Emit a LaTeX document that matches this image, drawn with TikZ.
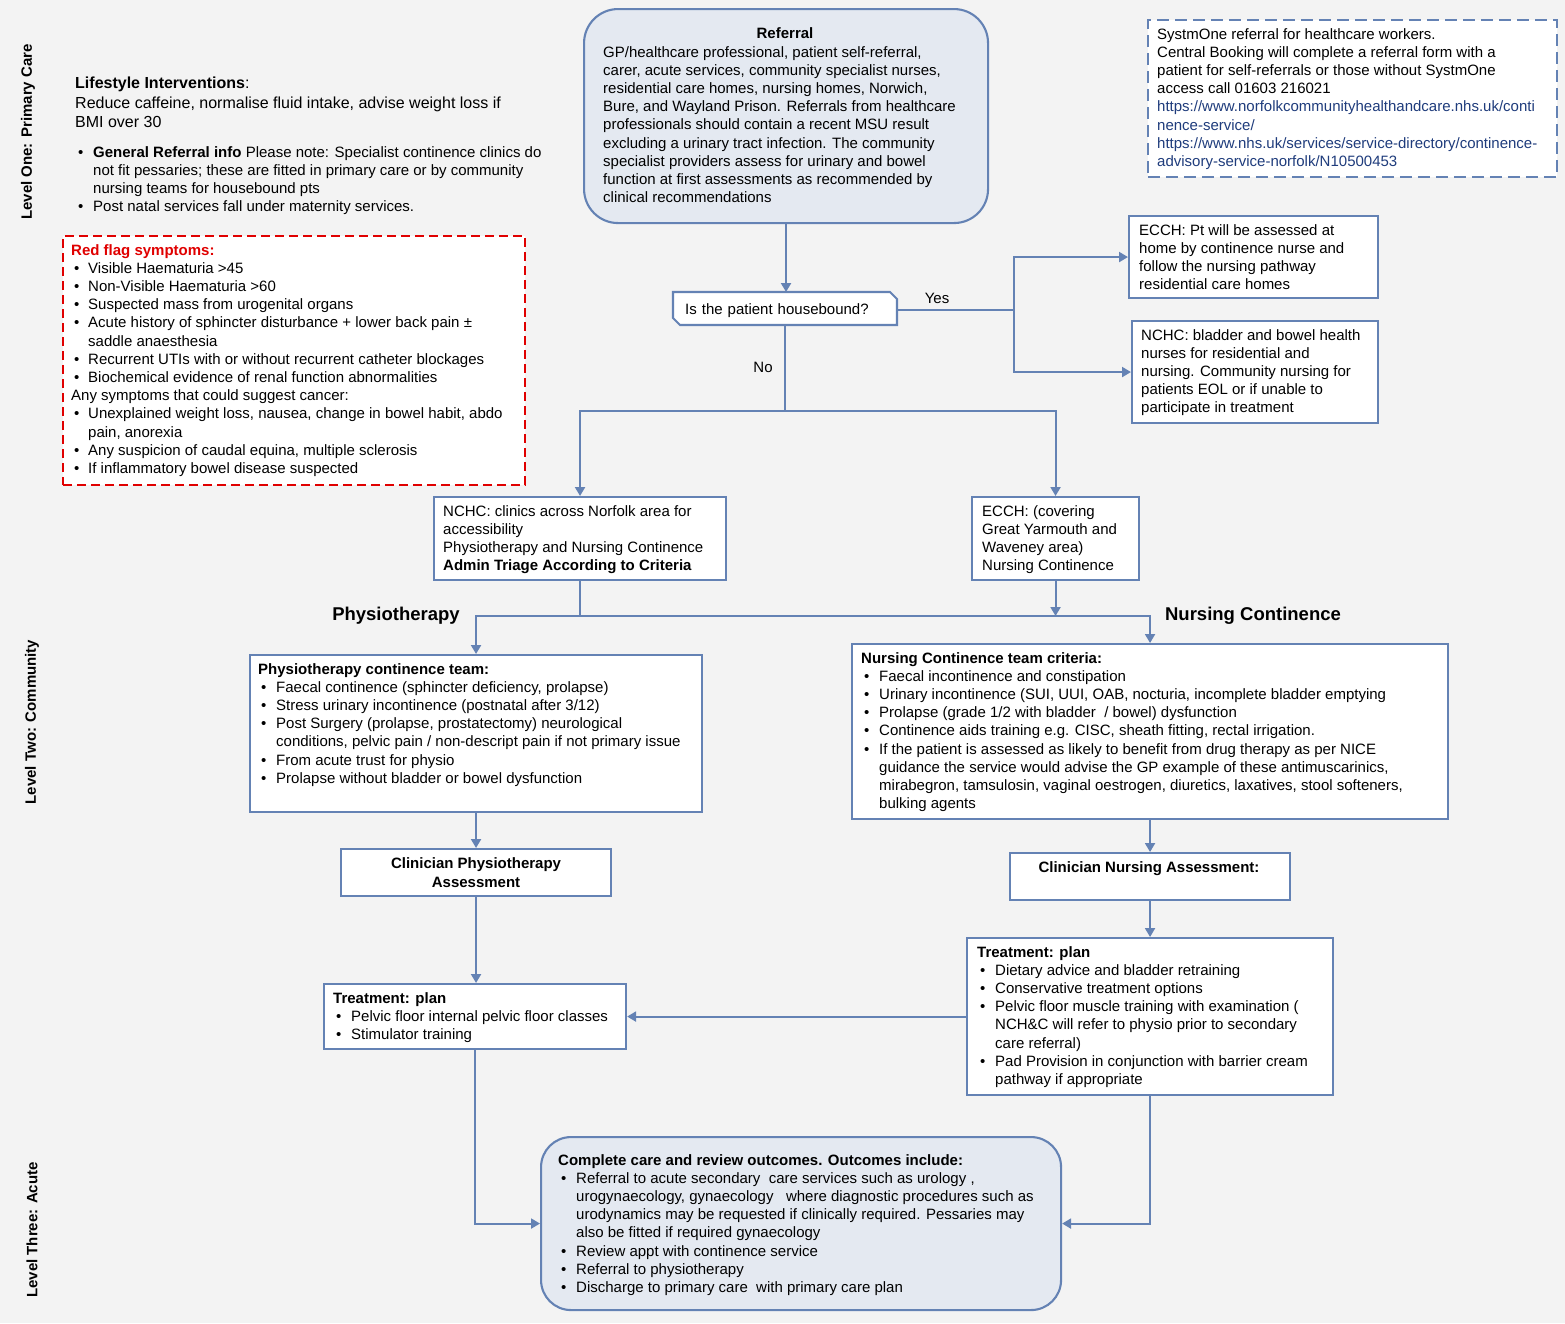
\documentclass[tikz,border=0pt]{standalone}
\usepackage{fontspec}
\setmainfont{Liberation Sans}
\usetikzlibrary{arrows.meta,calc}
\definecolor{bgc}{HTML}{F3F3F3}
\definecolor{lnc}{HTML}{6482B4}
\definecolor{rfill}{HTML}{E4E9F1}
\definecolor{rflag}{HTML}{E00000}
\definecolor{urlc}{HTML}{1F3C7C}
\newcommand{\bu}[1][18pt]{\makebox[#1][l]{\hspace{3pt}\textbullet}}
\newcommand{\cn}[1][18pt]{\makebox[#1]{}}
\begin{document}
\begin{tikzpicture}[x=1pt,y=-1pt,
  box/.style={draw=lnc, line width=2.1pt, fill=white, anchor=north west, inner sep=0pt},
  rbox/.style={box, fill=rfill, rounded corners=34pt},
  txt/.style={anchor=north west, inner sep=0pt, align=left, font=\fontsize{15}{18.2}\selectfont},
  arr/.style={draw=lnc, line width=2.1pt, -{Triangle[width=10pt,length=9pt]}},
  ln/.style={draw=lnc, line width=2.1pt},
  lvl/.style={rotate=90, font=\bfseries\fontsize{15}{18}\selectfont, inner sep=0pt},
  head/.style={font=\bfseries\fontsize{18.5}{22}\selectfont, inner sep=0pt},
  btxt/.style={font=\bfseries\fontsize{15}{18.2}\selectfont, inner sep=0pt, align=center}
]
\fill[bgc] (0,0) rectangle (1565,1323);
\useasboundingbox (0,0) rectangle (1565,1323);

% level labels
\node[lvl] (l1) at (28,132) {Level One: Primary Care};
\node[lvl] (l2) at (32,722) {Level Two: Community};
\node[lvl] (l3) at (32,1230) {Level Three: Acute};

% lifestyle
\node[txt, font=\fontsize{16}{19.5}\selectfont] (life) at (75,77) {\textbf{Lifestyle Interventions}:\\Reduce caffeine, normalise fluid intake, advise weight loss if\\BMI over 30};
\node[txt] (gen) at (75,146) {\bu\textbf{General Referral info} Please note: Specialist continence clinics do\\\cn not fit pessaries; these are fitted in primary care or by community\\\cn nursing teams for housebound pts\\\bu Post natal services fall under maternity services.};

% red flag box
\node[box, draw=rflag, line width=1.8pt, dash pattern=on 9pt off 5pt, minimum width=462pt, minimum height=249pt] (rf) at (62,235) {};
\node[txt] (rft) at (71,244) {\textcolor{rflag}{\textbf{Red flag symptoms:}}\\
\bu[17pt]Visible Haematuria >45\\
\bu[17pt]Non-Visible Haematuria >60\\
\bu[17pt]Suspected mass from urogenital organs\\
\bu[17pt]Acute history of sphincter disturbance + lower back pain ±\\
\cn[17pt]saddle anaesthesia\\
\bu[17pt]Recurrent UTIs with or without recurrent catheter blockages\\
\bu[17pt]Biochemical evidence of renal function abnormalities\\
Any symptoms that could suggest cancer:\\
\bu[17pt]Unexplained weight loss, nausea, change in bowel habit, abdo\\
\cn[17pt]pain, anorexia\\
\bu[17pt]Any suspicion of caudal equina, multiple sclerosis\\
\bu[17pt]If inflammatory bowel disease suspected};

% referral
\node[rbox, minimum width=404pt, minimum height=214pt] (ref) at (583,8) {};
\node[btxt, anchor=north] (reft) at (785,27) {Referral};
\node[txt] (refb) at (603,46) {GP/healthcare professional, patient self-referral,\\
carer, acute services, community specialist nurses,\\
residential care homes, nursing homes, Norwich,\\
Bure, and Wayland Prison. Referrals from healthcare\\
professionals should contain a recent MSU result\\
excluding a urinary tract infection. The community\\
specialist providers assess for urinary and bowel\\
function at first assessments as recommended by\\
clinical recommendations};

% systmone
\node[box, line width=1.8pt, dash pattern=on 12pt off 6pt, minimum width=409pt, minimum height=157pt] (sys) at (1147,19) {};
\node[txt] (syst) at (1157,28) {SystmOne referral for healthcare workers.\\
Central Booking will complete a referral form with a\\
patient for self-referrals or those without SystmOne\\
access call 01603 216021\\
\textcolor{urlc}{https://www.norfolkcommunityhealthandcare.nhs.uk/conti}\\
\textcolor{urlc}{nence-service/}\\
\textcolor{urlc}{https://www.nhs.uk/services/service-directory/continence-}\\
\textcolor{urlc}{advisory-service-norfolk/N10500453}};

% decision
\draw[ln, fill=white] (673,292) -- (890,292) -- (897,299) -- (897,325) -- (680,325) -- (673,318) -- cycle;
\node[anchor=north west, inner xsep=12pt, inner ysep=0pt, minimum height=33pt, text width=200pt, align=left, font=\fontsize{15}{18.2}\selectfont] (dec) at (673,293.5) {Is the patient housebound?};

% housebound boxes
\node[box, minimum width=249pt, minimum height=82pt] (ecch1) at (1128,215) {};
\node[txt] (ecch1t) at (1139,224) {ECCH: Pt will be assessed at\\home by continence nurse and\\follow the nursing pathway\\residential care homes};
\node[box, minimum width=246pt, minimum height=102pt] (nchc1) at (1131,320) {};
\node[txt] (nchc1t) at (1141,329) {NCHC: bladder and bowel health\\nurses for residential and\\nursing. Community nursing for\\patients EOL or if unable to\\participate in treatment};

% clinic boxes
\node[box, minimum width=292pt, minimum height=83pt] (clin) at (433,496) {};
\node[txt] (clint) at (443,505) {NCHC: clinics across Norfolk area for\\accessibility\\Physiotherapy and Nursing Continence\\\textbf{Admin Triage According to Criteria}};
\node[box, minimum width=167pt, minimum height=83pt] (ecch2) at (971,496) {};
\node[txt] (ecch2t) at (982,505) {ECCH: (covering\\Great Yarmouth and\\Waveney area)\\Nursing Continence};

% headings
\node[head] (hphys) at (396,616) {Physiotherapy};
\node[head] (hnurse) at (1253,616) {Nursing Continence};

% physio team
\node[box, minimum width=452pt, minimum height=157pt] (physio) at (249,654) {};
\node[txt] (physiot) at (258,663) {\textbf{Physiotherapy continence team:}\\
\bu Faecal continence (sphincter deficiency, prolapse)\\
\bu Stress urinary incontinence (postnatal after 3/12)\\
\bu Post Surgery (prolapse, prostatectomy) neurological\\
\cn conditions, pelvic pain / non-descript pain if not primary issue\\
\bu From acute trust for physio\\
\bu Prolapse without bladder or bowel dysfunction};

% nursing team
\node[box, minimum width=596pt, minimum height=175pt] (nurse) at (851,643) {};
\node[txt] (nurset) at (861,652) {\textbf{Nursing Continence team criteria:}\\
\bu Faecal incontinence and constipation\\
\bu Urinary incontinence (SUI, UUI, OAB, nocturia, incomplete bladder emptying\\
\bu Prolapse (grade 1/2 with bladder\ \ / bowel) dysfunction\\
\bu Continence aids training e.g. CISC, sheath fitting, rectal irrigation.\\
\bu If the patient is assessed as likely to benefit from drug therapy as per NICE\\
\cn guidance the service would advise the GP example of these antimuscarinics,\\
\cn mirabegron, tamsulosin, vaginal oestrogen, diuretics, laxatives, stool softeners,\\
\cn bulking agents};

% clinician assessments
\node[box, btxt, minimum width=270pt, minimum height=47pt] (cphys) at (340,848) {Clinician Physiotherapy\\Assessment};
\node[box, minimum width=280pt, minimum height=47pt] (cnurse) at (1009,852) {};
\node[btxt, anchor=north] (cnurset) at (1149,861) {Clinician Nursing Assessment:};

% treatment plans
\node[box, minimum width=302pt, minimum height=65pt] (tleft) at (323,983) {};
\node[txt] (tleftt) at (333,992) {\textbf{Treatment: plan}\\
\bu Pelvic floor internal pelvic floor classes\\
\bu Stimulator training};
\node[box, minimum width=366pt, minimum height=157pt] (tright) at (966,937) {};
\node[txt] (trightt) at (977,946) {\textbf{Treatment: plan}\\
\bu Dietary advice and bladder retraining\\
\bu Conservative treatment options\\
\bu Pelvic floor muscle training with examination (\\
\cn NCH\&C will refer to physio prior to secondary\\
\cn care referral)\\
\bu Pad Provision in conjunction with barrier cream\\
\cn pathway if appropriate};

% final
\node[rbox, rounded corners=30pt, minimum width=520pt, minimum height=173pt] (final) at (540,1136) {};
\node[txt] (finalt) at (558,1154) {\textbf{Complete care and review outcomes. Outcomes include:}\\
\bu Referral to acute secondary\ \ care services such as urology ,\\
\cn urogynaecology, gynaecology\ \ \ where diagnostic procedures such as\\
\cn urodynamics may be requested if clinically required. Pessaries may\\
\cn also be fitted if required gynaecology\\
\bu Review appt with continence service\\
\bu Referral to physiotherapy\\
\bu Discharge to primary care\ \ with primary care plan};

% connectors
\coordinate (dtop) at (785,292);
\coordinate (dbot) at (785,325);
\coordinate (drgt) at (897,310);
\draw[arr] (ref.south) -- (ref.south |- dtop);
\coordinate (xl) at (1014,0);
\coordinate (yj) at (drgt -| xl);
\draw[ln] (drgt) -- (yj);
\draw[arr] (yj) |- (ecch1.west);
\draw[arr] (yj) |- (nchc1.west);
\node[font=\fontsize{15}{18}\selectfont, inner sep=0pt] (yes) at (937,298) {Yes};
\coordinate (yl) at (0,411);
\coordinate (nj) at (dbot |- yl);
\draw[ln] (dbot) -- (nj);
\draw[arr] (nj) -| (clin.north);
\draw[arr] (nj) -| (ecch2.north);
\node[font=\fontsize{15}{18}\selectfont, inner sep=0pt] (no) at (763,367) {No};
\coordinate (pl) at (0,616);
\coordinate (pj) at (clin.south |- pl);
\draw[ln] (clin.south) -- (pj);
\draw[arr] (pj) -| (physio.north);
\draw[arr] (pj) -| (nurse.north);
\draw[arr] (ecch2.south) -- (ecch2.south |- pj);
\draw[arr] (physio.south) -- (physio.south |- cphys.north);
\draw[arr] (cphys.south) -- (cphys.south |- tleft.north);
\draw[arr] (nurse.south) -- (nurse.south |- cnurse.north);
\draw[arr] (cnurse.south) -- (cnurse.south |- tright.north);
\draw[arr] (tright.west) -- (tright.west -| tleft.east);
\draw[arr] (tleft.south) |- (final.west);
\draw[arr] (tright.south) |- (final.east);
\end{tikzpicture}
\end{document}
